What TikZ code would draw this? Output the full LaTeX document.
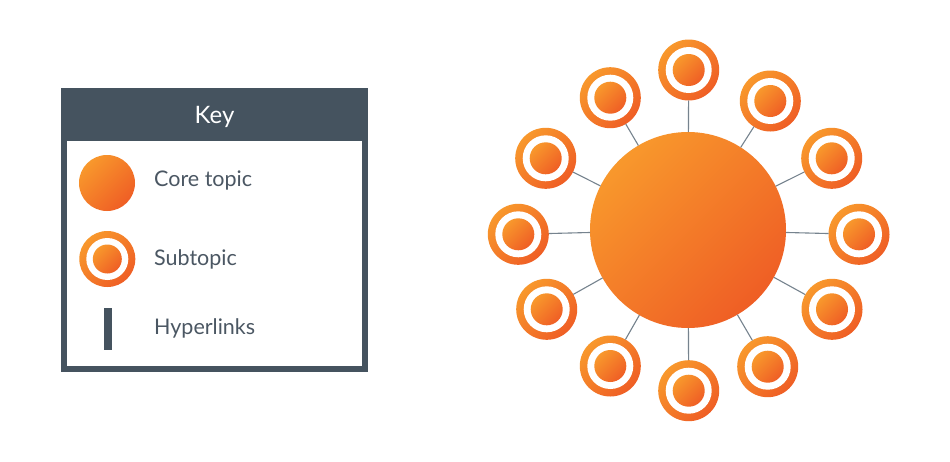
\documentclass[tikz,border=0pt]{standalone}
\usepackage{fontspec}
\setmainfont{Lato}
\definecolor{slate}{HTML}{45535F}
\definecolor{txt}{HTML}{4B5763}
\definecolor{olight}{HTML}{F8982C}
\definecolor{odark}{HTML}{EF5E25}
\definecolor{linkc}{HTML}{76838E}
\tikzset{
  orangeball/.style={circle, inner sep=0pt, outer sep=0pt, minimum size=#1,
    top color=olight, bottom color=odark, shading angle=45, draw=none},
  subtopic/.style={orangeball=61pt,
    path picture={
      \fill[white] (path picture bounding box.center) circle (23pt);
      \shade[top color=olight, bottom color=odark, shading angle=45]
        (path picture bounding box.center) circle (16pt);}},
  keysub/.style={orangeball=56pt,
    path picture={
      \fill[white] (path picture bounding box.center) circle (21pt);
      \shade[top color=olight, bottom color=odark, shading angle=45]
        (path picture bounding box.center) circle (14.5pt);}},
  keytext/.style={anchor=base west, text=txt, font=\fontsize{21.5}{26}\selectfont, inner sep=0pt},
  link/.style={draw=linkc, line width=1.1pt}
}
\begin{document}
\begin{tikzpicture}[x=1pt, y=-1pt]
\useasboundingbox[fill=white] (0,0) rectangle (950,461);
% Key box
\node[draw=slate, fill=white, line width=6pt, minimum width=301pt, minimum height=278pt, inner sep=0pt] (keybox) at (214.5,230) {};
\node[fill=slate, minimum width=307pt, minimum height=53pt, inner sep=0pt, outer sep=0pt, anchor=north] (keyhead) at (keybox.north) {};
\node[anchor=base, text=white, inner sep=0pt, font=\fontsize{24}{28}\selectfont] (keylabel) at (214.5,123.3) {Key};
\node[orangeball=56pt] (kcore) at (107,183) {};
\node[keysub] (ksub) at (107.3,259) {};
\node[fill=slate, minimum width=8pt, minimum height=42pt, inner sep=0pt] (klink) at (108.3,328.5) {};
\node[keytext] (tcore) at (154,186) {Core topic};
\node[keytext] (tsub) at (154,265) {Subtopic};
\node[keytext] (tlink) at (154,334) {Hyperlinks};
% Map
\node[orangeball=196pt] (core) at (688,230) {};
\foreach \n/\x/\y in {1/688.7/70, 2/770.3/101, 3/831.7/158.3, 4/859/234.3, 5/832/309.3, 6/767.7/366.7,
  7/688.7/390.7, 8/610.3/366, 9/546.7/309.3, 10/518.3/234.3, 11/545.7/158.3, 12/610.3/97.7}{
  \node[subtopic] (s\n) at (\x,\y) {};
  \draw[link] (core) -- (s\n);
}
\end{tikzpicture}
\end{document}
